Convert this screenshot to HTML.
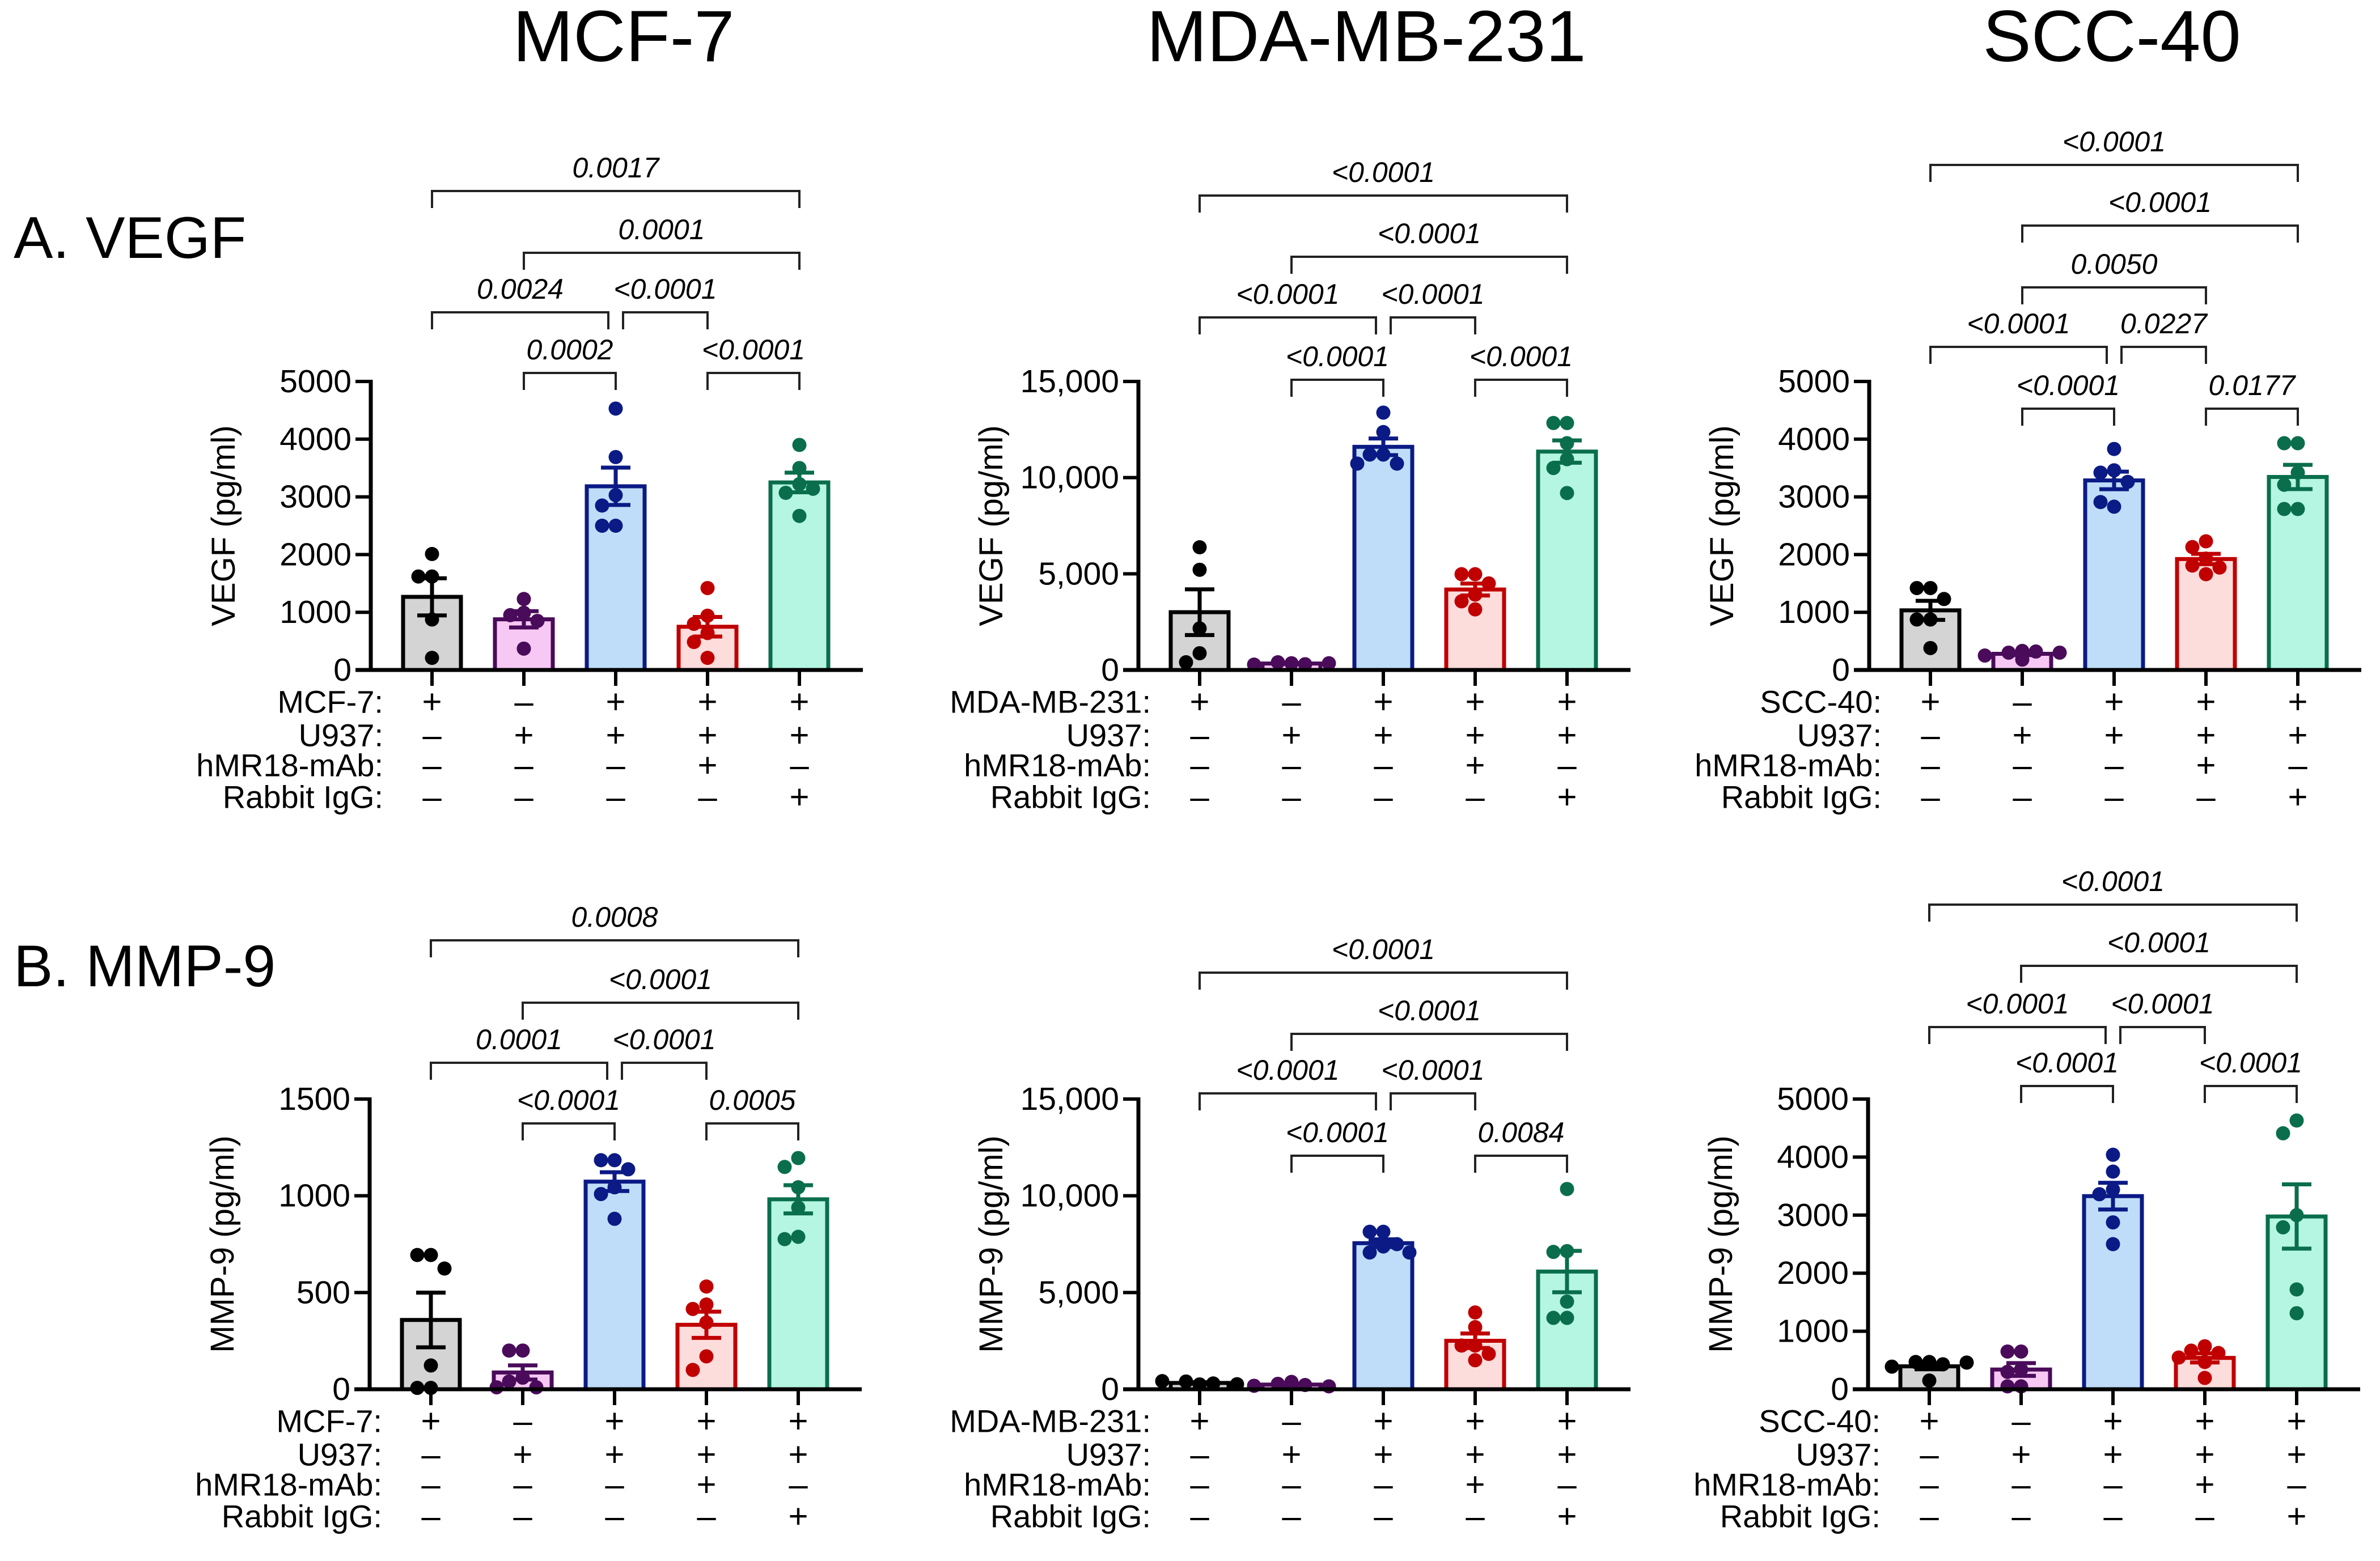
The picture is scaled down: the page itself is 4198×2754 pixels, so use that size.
<!DOCTYPE html>
<html><head><meta charset="utf-8"><style>
html,body{margin:0;padding:0;background:#fff}
svg{display:block}
text{font-family:"Liberation Sans",Arial,sans-serif;fill:#000}
</style></head><body>
<svg id="fig" width="4198" height="2754" viewBox="0 0 4198 2754" xmlns="http://www.w3.org/2000/svg">
<text x="1100" y="108" font-size="128" text-anchor="middle">MCF-7</text>
<text x="2410" y="108" font-size="128" text-anchor="middle">MDA-MB-231</text>
<text x="3725" y="108" font-size="128" text-anchor="middle">SCC-40</text>
<text x="24" y="455" font-size="104">A. VEGF</text>
<text x="24" y="1740" font-size="104">B. MMP-9</text>
</svg>
<script>
const groupNames = ["g1","g2","g3","g4","g5"];
const fills = ["#d4d4d4","#f6c8f3","#bfddf8","#fddcdc","#b4f6e1"];
const strokes = ["#000000","#4a0b5a","#0b1a85","#c00000","#0a6e4c"];
const rowSigns = [["+","–","+","+","+"],["–","+","+","+","+"],["–","–","–","+","–"],["–","–","–","–","+"]];
const ticksA1 = [0,1000,2000,3000,4000,5000];
const tickLabA1 = ["0","1000","2000","3000","4000","5000"];
const ticksA2 = [0,5000,10000,15000];
const tickLabA2 = ["0","5,000","10,000","15,000"];
const ticksA3 = [0,1000,2000,3000,4000,5000];
const tickLabA3 = ["0","1000","2000","3000","4000","5000"];
const ticksB1 = [0,500,1000,1500];
const tickLabB1 = ["0","500","1000","1500"];
const ticksB2 = [0,5000,10000,15000];
const tickLabB2 = ["0","5,000","10,000","15,000"];
const ticksB3 = [0,1000,2000,3000,4000,5000];
const tickLabB3 = ["0","1000","2000","3000","4000","5000"];
const ptsA1 = [[2010,1620,1620,875,210],[1230,990,950,850,370],[4530,3690,3030,2850,2500,2500],[1420,940,800,640,485,210],[3900,3500,3220,3070,2670,3140]];
const ptsA2 = [[6380,5210,2160,870,400],[350,400,300,280,350],[13380,12370,11200,11200,10730,10730],[4980,4980,4500,3920,3570,3150],[12840,12840,11790,10960,10500,9200]];
const ptsA3 = [[1420,1420,1230,875,875,380],[330,300,320,250,300,180],[3830,3460,3420,3260,2830,2910],[2230,2130,1930,1810,1775,1660],[3930,3930,3420,3210,2790,2790]];
const ptsB1 = [[694,694,624,123,7,7],[200,200,60,40,10,10],[1184,1184,1137,1044,1009,881],[531,438,415,345,170,100],[1195,1149,1044,939,788,776]];
const ptsB2 = [[250,400,300,420,260],[380,280,220,180,150],[8140,8140,7500,7380,7070,7070],[3970,3210,2260,2260,1500,1830],[10350,7140,7100,4530,3690,3690]];
const ptsB3 = [[470,470,430,390,460,150],[650,650,340,300,50,50],[4040,3750,3440,3360,2875,2500],[740,665,625,547,470,195],[4630,4410,3000,2790,1720,1310]];
const brA1 = [[1,2,0,"0.0002"],[3,4,0,"<0.0001"],[0,2,1,"0.0024"],[2,3,1,"<0.0001"],[1,4,2,"0.0001"],[0,4,3,"0.0017"]];
const brA2 = [[1,2,0,"<0.0001"],[3,4,0,"<0.0001"],[0,2,1,"<0.0001"],[2,3,1,"<0.0001"],[1,4,2,"<0.0001"],[0,4,3,"<0.0001"]];
const brA3 = [[1,2,0,"<0.0001"],[3,4,0,"0.0177"],[0,2,1,"<0.0001"],[2,3,1,"0.0227"],[1,3,2,"0.0050"],[1,4,3,"<0.0001"],[0,4,4,"<0.0001"]];
const brB1 = [[1,2,0,"<0.0001"],[3,4,0,"0.0005"],[0,2,1,"0.0001"],[2,3,1,"<0.0001"],[1,4,2,"<0.0001"],[0,4,3,"0.0008"]];
const brB2 = [[1,2,0,"<0.0001"],[3,4,0,"0.0084"],[0,2,1,"<0.0001"],[2,3,1,"<0.0001"],[1,4,2,"<0.0001"],[0,4,3,"<0.0001"]];
const brB3 = [[1,2,0,"<0.0001"],[3,4,0,"<0.0001"],[0,2,1,"<0.0001"],[2,3,1,"<0.0001"],[1,4,2,"<0.0001"],[0,4,3,"<0.0001"]];

const NS="http://www.w3.org/2000/svg";
const svg=document.getElementById("fig");
function mk(tag,attrs,parent){const e=document.createElementNS(NS,tag);for(const k in attrs)e.setAttribute(k,attrs[k]);(parent||svg).appendChild(e);return e;}

const panels=[
 {id:"a1",ax:654,base:1182,top:673,max:5000,ticks:ticksA1,labs:tickLabA1,pts:ptsA1,br:brA1,lv:[658,551,446,337],yt:"VEGF (pg/ml)",cell:"MCF-7:"},
 {id:"a2",ax:2008,base:1182,top:673,max:15000,ticks:ticksA2,labs:tickLabA2,pts:ptsA2,br:brA2,lv:[670,560,453,345],yt:"VEGF (pg/ml)",cell:"MDA-MB-231:"},
 {id:"a3",ax:3297,base:1182,top:673,max:5000,ticks:ticksA3,labs:tickLabA3,pts:ptsA3,br:brA3,lv:[721,612,507,398,291],yt:"VEGF (pg/ml)",cell:"SCC-40:"},
 {id:"b1",ax:652,base:2451,top:1939,max:1500,ticks:ticksB1,labs:tickLabB1,pts:ptsB1,br:brB1,lv:[1982,1875,1769,1659],yt:"MMP-9 (pg/ml)",cell:"MCF-7:"},
 {id:"b2",ax:2008,base:2451,top:1939,max:15000,ticks:ticksB2,labs:tickLabB2,pts:ptsB2,br:brB2,lv:[2039,1929,1824,1716],yt:"MMP-9 (pg/ml)",cell:"MDA-MB-231:"},
 {id:"b3",ax:3295,base:2451,top:1939,max:5000,ticks:ticksB3,labs:tickLabB3,pts:ptsB3,br:brB3,lv:[1916,1812,1704,1596],yt:"MMP-9 (pg/ml)",cell:"SCC-40:"}
];
const rowNames=[null,"U937:","hMR18-mAb:","Rabbit IgG:"];
const rowOff=[56,115,168,224];

panels.forEach(p=>{
  const g=mk("g",{});
  
  
  const yS=v=>p.base-(v/p.max)*(p.base-p.top);
  const xS=i=>p.ax+108+i*162;
  const bw=102;
  p.pts.forEach((arr,i)=>{
    const n=arr.length, m=arr.reduce((a,b)=>a+b,0)/n;
    const sd=Math.sqrt(arr.reduce((a,b)=>a+(b-m)*(b-m),0)/(n-1)), se=sd/Math.sqrt(n);
    const r=mk("rect",{x:xS(i)-bw/2,y:yS(m),width:bw,height:p.base-yS(m),fill:fills[i],stroke:strokes[i],"stroke-width":7},g);
    
    
    const placed=[];
    arr.forEach(v=>{
      const y=yS(v); let off=0;
      const cands=[0,-24,24,-46,46,-66,66];
      for(const c of cands){ if(placed.every(q=>Math.hypot(q[0]-c,q[1]-y)>=24)){off=c;break;} }
      placed.push([off,y]);
      const d=mk("circle",{cx:xS(i)+off,cy:y,r:12.5,fill:strokes[i]},g);
      
      
    });
    const eb=mk("path",{d:`M${xS(i)} ${yS(m-se)}V${yS(m+se)}M${xS(i)-26} ${yS(m+se)}H${xS(i)+26}M${xS(i)-26} ${yS(m-se)}H${xS(i)+26}`,stroke:strokes[i],"stroke-width":7,fill:"none"},g);
    
    
    mk("line",{x1:xS(i),y1:p.base,x2:xS(i),y2:p.base+28,stroke:"#000","stroke-width":6},g);
    rowSigns.forEach((row,k)=>{
      const t=mk("text",{x:xS(i),y:p.base+rowOff[k],"font-size":60,"text-anchor":"middle","dominant-baseline":"central"},g);
      t.textContent=row[i];
      
      
    });
  });
  const ya=mk("line",{x1:p.ax,y1:p.top-3,x2:p.ax,y2:p.base+3,stroke:"#000","stroke-width":7},g);
  
  
  const xa=mk("line",{x1:p.ax-27,y1:p.base,x2:xS(4)+112,y2:p.base,stroke:"#000","stroke-width":7},g);
  
  
  p.ticks.forEach((v,k)=>{
    mk("line",{x1:p.ax-27,y1:yS(v),x2:p.ax,y2:yS(v),stroke:"#000","stroke-width":6},g);
    const t=mk("text",{x:p.ax-34,y:yS(v),"font-size":57,"text-anchor":"end","dominant-baseline":"central"},g);
    t.textContent=p.labs[k];
    
    
  });
  const yt=mk("text",{x:0,y:0,"font-size":58,"text-anchor":"middle",transform:`translate(${p.ax-240},${(p.base+p.top)/2}) rotate(-90)`},g);
  yt.textContent=p.yt;
  
  
  [p.cell].concat(rowNames.slice(1)).forEach((s,k)=>{
    const t=mk("text",{x:p.ax+22,y:p.base+rowOff[k],"font-size":56,"text-anchor":"end","dominant-baseline":"central"},g);
    t.textContent=s;
    
    
  });
  p.br.forEach(b=>{
    const [i,j,l,lab]=b; const y=p.lv[l];
    let x1=xS(i), x2=xS(j);
    if(p.br.some(o=>o!==b&&o[2]===l&&o[0]===j)) x2-=13;
    if(p.br.some(o=>o!==b&&o[2]===l&&o[1]===i)) x1+=13;
    const bp=mk("path",{d:`M${x1} ${y+30}V${y}H${x2}V${y+30}`,stroke:"#222","stroke-width":4,fill:"none"},g);
    
    
    const t=mk("text",{x:(x1+x2)/2,y:y-24,"font-size":50,"font-style":"italic","text-anchor":"middle"},g);
    t.textContent=lab;
    
    
  });
});
</script>
</body></html>
